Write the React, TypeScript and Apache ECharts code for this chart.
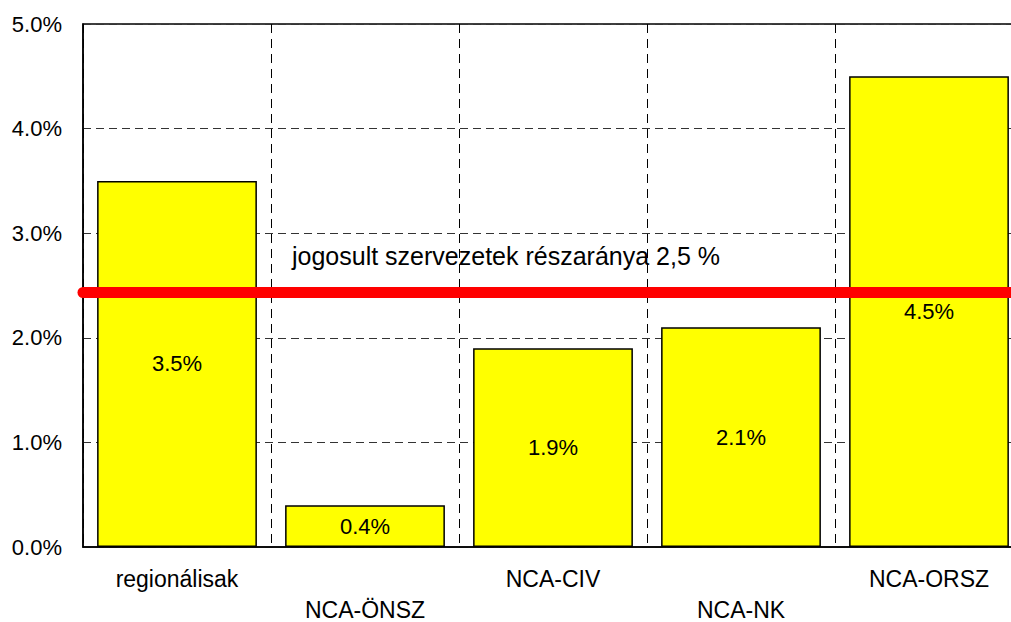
import React, { useEffect, useRef } from "react";
import * as echarts from "echarts";

const categories = ["regionálisak", "NCA-ÖNSZ", "NCA-CIV", "NCA-NK", "NCA-ORSZ"];
const values = [3.5, 0.4, 1.9, 2.1, 4.5];
const yTicks = [0, 1, 2, 3, 4, 5];
const thresholdValue = 2.44;
const thresholdLabel = "jogosult szervezetek részaránya 2,5 %";

const FONT = "'Liberation Sans', Arial, sans-serif";

export default function App() {
  const ref = useRef<HTMLDivElement>(null);
  useEffect(() => {
    if (!ref.current) return;
    const chart = echarts.init(ref.current, undefined, { renderer: "svg" });
    chart.setOption({
      animation: false,
      backgroundColor: "#ffffff",
      textStyle: { fontFamily: FONT },
      grid: {
        left: 83,
        top: 24,
        right: 1,
        bottom: 75,
        containLabel: false,
        outerBoundsMode: "none",
        show: true,
        borderColor: "#000",
        borderWidth: 1.5,
        backgroundColor: "transparent",
      },
      xAxis: {
        type: "category",
        data: categories,
        axisLine: { show: true, lineStyle: { color: "#000", width: 1.5 } },
        axisTick: { show: false },
        axisLabel: {
          interval: 0,
          color: "#000",
          fontFamily: FONT,
          fontSize: 23,
          lineHeight: 31,
          margin: 16,
          formatter: (v: string, i: number) => (i % 2 === 1 ? "\n" + v : v),
        },
        splitLine: {
          show: true,
          interval: 0,
          lineStyle: { color: "#000", width: 1, type: [9, 6] },
        },
      },
      yAxis: {
        type: "value",
        min: yTicks[0],
        max: yTicks[yTicks.length - 1],
        interval: 1,
        axisLine: { show: true, lineStyle: { color: "#000", width: 1.5 } },
        axisTick: { show: false },
        axisLabel: {
          color: "#000",
          fontFamily: FONT,
          fontSize: 22,
          margin: 21,
          formatter: (v: number) => v.toFixed(1) + "%",
        },
        splitLine: {
          show: true,
          lineStyle: { color: "#333", width: 1, type: [8, 5] },
        },
      },
      series: [
        {
          type: "bar",
          data: values,
          barWidth: "85%",
          itemStyle: { color: "#ffff00", borderColor: "#000", borderWidth: 1.5 },
          label: {
            show: true,
            position: "inside",
            color: "#000",
            fontFamily: FONT,
            fontSize: 22,
            formatter: (p: any) => Number(p.value).toFixed(1) + "%",
          },
          markLine: {
            silent: true,
            symbol: ["none", "none"],
            lineStyle: { color: "#ff0000", width: 11, type: "solid", cap: "round" },
            label: {
              show: true,
              position: "insideStartTop",
              distance: [209, 23],
              color: "#000",
              fontFamily: FONT,
              fontSize: 25,
              formatter: thresholdLabel,
            },
            data: [{ yAxis: thresholdValue }],
          },
        },
      ],
    });
    return () => chart.dispose();
  }, []);
  return (
    <div
      ref={ref}
      style={{ position: "fixed", left: 0, top: 0, width: 1024, height: 622 }}
    />
  );
}
